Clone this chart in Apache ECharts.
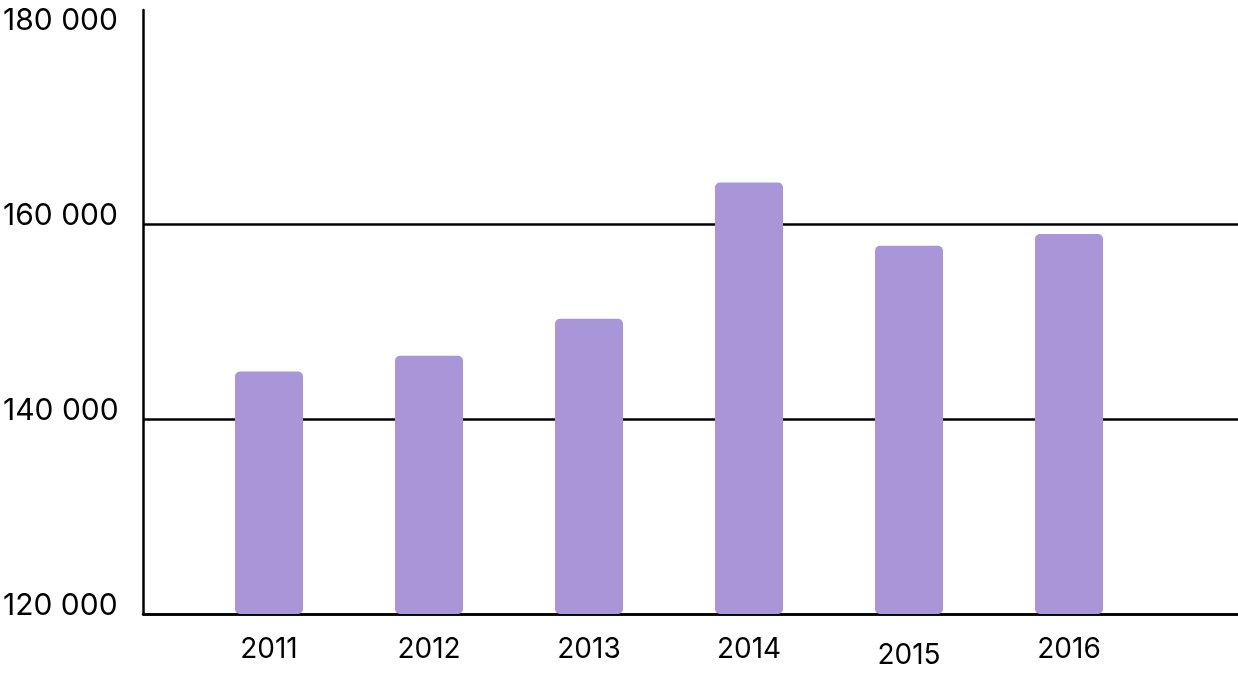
<!DOCTYPE html>
<html>
<head>
<meta charset="utf-8">
<script src="https://cdn.jsdelivr.net/npm/echarts@6/dist/echarts.min.js"></script>
<style>
html,body{margin:0;padding:0;background:#fff;}
#chart{width:1238px;height:678px;}
</style>
</head>
<body>
<div id="chart"></div>
<script>
const years = [2011, 2012, 2013, 2014, 2015, 2016];
const values = [144900, 146500, 150300, 164300, 157800, 159000];
const yTicks = [120000, 140000, 160000, 180000];

function fmtThousands(v) {
  return String(v).replace(/\B(?=(\d{3})+(?!\d))/g, ' ');
}

const chart = echarts.init(document.getElementById('chart'), null, {renderer: 'canvas'});
chart.setOption({
  animation: false,
  backgroundColor: '#ffffff',
  grid: {left: 143, right: 0, top: 10, bottom: 64, containLabel: false},
  xAxis: {
    type: 'value',
    min: 2010.2125,
    max: 2017.05625,
    axisLine: {show: true, onZero: false, lineStyle: {color: '#000', width: 2.5}},
    axisTick: {show: false},
    splitLine: {show: false},
    axisLabel: {
      customValues: years,
      margin: 22,
      color: '#000',
      fontFamily: 'Inter',
      fontSize: 28,
      formatter: function (v) { return v === 2015 ? '{low|2015}' : String(v); },
      rich: {low: {fontFamily: 'Inter', fontSize: 28, color: '#000', padding: [6, 0, 0, 0]}}
    }
  },
  yAxis: {
    type: 'value',
    min: 120000,
    max: 182000,
    interval: 20000,
    axisLine: {show: true, lineStyle: {color: '#000', width: 2.5}},
    axisTick: {show: false},
    splitLine: {show: true, lineStyle: {color: ['#000', '#000', '#000', 'rgba(0,0,0,0)', 'rgba(0,0,0,0)'], width: 2.5}},
    axisLabel: {
      align: 'left',
      margin: 140,
      color: '#000',
      fontFamily: 'Inter',
      fontSize: 30,
      verticalAlign: 'bottom',
      lineHeight: 16,
      customValues: yTicks,
      formatter: function (v) { return fmtThousands(v); }
    }
  },
  series: [{
    type: 'bar',
    barWidth: 68,
    data: years.map((y, i) => [y, values[i]]),
    itemStyle: {color: '#a996d8', borderRadius: 5}
  }]
});
</script>
</body>
</html>
